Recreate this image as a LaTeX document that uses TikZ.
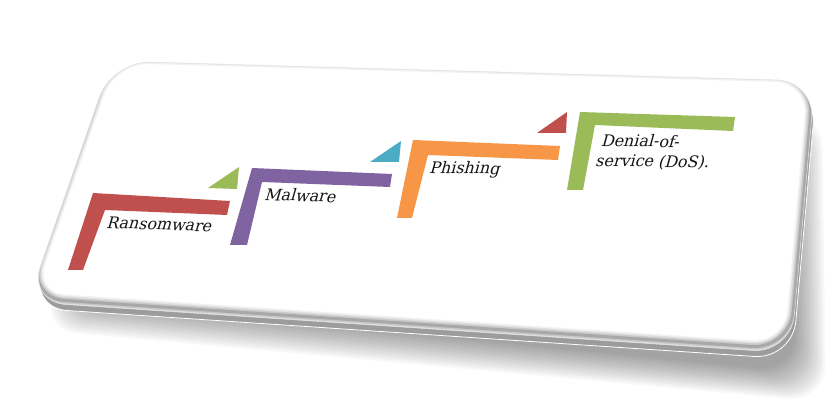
\documentclass[tikz,border=0pt]{standalone}
\usepackage{fontspec}
\setmainfont{DejaVu Serif}
\usetikzlibrary{positioning}
\definecolor{stepred}{HTML}{C0504D}
\definecolor{steppurple}{HTML}{8064A2}
\definecolor{steporange}{HTML}{F79646}
\definecolor{stepgreen}{HTML}{9BBB59}
\definecolor{stepcyan}{HTML}{4BACC6}
\definecolor{cardside}{HTML}{9C9C9C}
\definecolor{labelink}{HTML}{141414}
\newcommand{\cardpath}{(112,61) -- (815,81) -- (791,353) -- (28,302) -- cycle}
\newcommand{\shadowpath}[1]{(160-#1,120-#1) -- (792+#1,140-#1) -- (796+#1,372+#1) -- (70-#1,300+#1) -- cycle}

\begin{document}
\begin{tikzpicture}[x=1pt, y=-1pt,
  card/.style={rounded corners=38pt},
  lbl/.style={anchor=base west, inner sep=0pt, align=left, text=labelink,
    font=\fontsize{16}{20}\selectfont, xslant=0.26}]
\useasboundingbox (0,0) rectangle (828,411);
% ===== shadow and card =====
\foreach \d in {0,2,...,30}
  \fill[black, opacity=0.026, card] \shadowpath{\d};
\fill[cardside, card, shift={(1.5,6)}] \cardpath;
\draw[white, line width=0.8pt, card, shift={(1.5,6)}] \cardpath;
\fill[white, card] \cardpath;
\begin{scope}
  \clip[card] \cardpath;
  \foreach \w/\o in {12/0.05, 9/0.07, 6/0.1, 3/0.16}
    \draw[black, opacity=\o, line width=\w pt, card, shift={(-1,-4)}] \cardpath;
\end{scope}
\draw[black!10, line width=0.5pt, card] \cardpath;
% ===== steps =====
\fill[stepred] (93,193) -- (230,201) -- (227,215) -- (105,210) -- (83,270) -- (68,270) -- cycle;
\fill[stepgreen] (208,188) -- (239,167) -- (237,189) -- cycle;
\fill[steppurple] (252,168) -- (392,174) -- (390,187) -- (262,182) -- (247,245) -- (230,245) -- cycle;
\fill[stepcyan] (370,162) -- (401,141) -- (399,162) -- cycle;
\fill[steporange] (413,140) -- (560,146) -- (558,160) -- (428,155) -- (412,218) -- (397,218) -- cycle;
\fill[stepred] (537,133) -- (567,112) -- (566,133) -- cycle;
\fill[stepgreen] (580,112) -- (735,117) -- (733,131) -- (595,125) -- (583,190) -- (567,190) -- cycle;
% ===== labels =====
\node[lbl, rotate=-2] (ransom) at (106,228) {Ransomware};
\node[lbl, rotate=-2] (malware) at (264,200) {Malware};
\node[lbl, rotate=-1] (phish) at (429,173) {Phishing};
\node[lbl, rotate=-1] (dos) at (595,166) {Denial-of-\\service (DoS).};
\end{tikzpicture}
\end{document}
